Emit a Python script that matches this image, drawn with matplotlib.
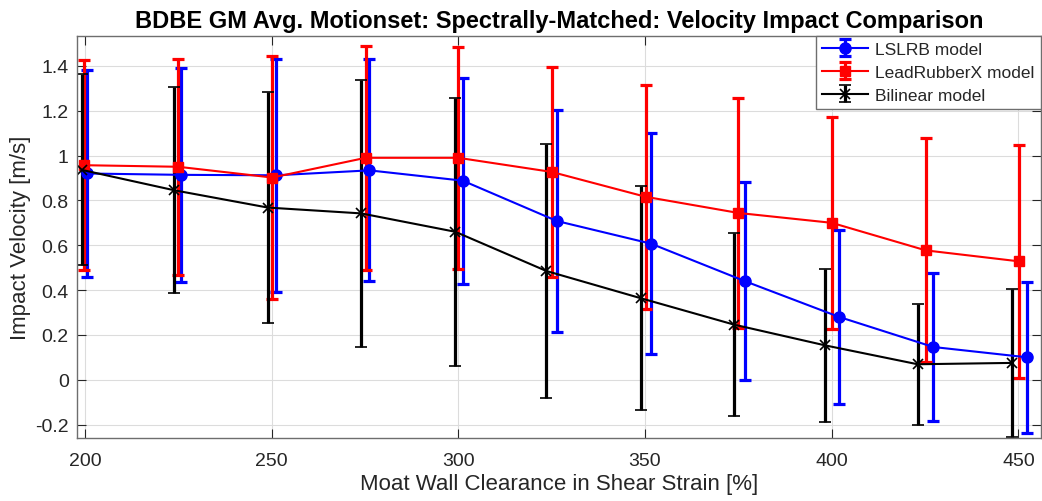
import matplotlib
matplotlib.use("Agg")
import matplotlib.pyplot as plt
import numpy as np

plt.rcParams['font.family'] = ['Liberation Sans', 'DejaVu Sans']

# Moat wall clearance (shear strain, %)
strain = [200, 225, 250, 275, 300, 325, 350, 375, 400, 425, 450]
# plotted x positions (slightly offset per series, as in the original)
x_lslrb = [200.6, 225.8, 251.2, 276.2, 301.2, 326.4, 351.6, 376.7, 402.0, 427.2, 452.3]
x_lrx = [199.9, 225.0, 250.2, 275.2, 300.0, 325.0, 350.2, 375.0, 400.0, 425.2, 450.2]
x_bil = [199.2, 224.0, 249.0, 274.0, 299.2, 323.6, 349.0, 373.8, 398.3, 423.0, 448.3]

lslrb_mean = [0.920, 0.914, 0.912, 0.934, 0.888, 0.708, 0.607, 0.440, 0.280, 0.146, 0.100]
lslrb_err = [0.462, 0.477, 0.521, 0.495, 0.460, 0.496, 0.494, 0.442, 0.390, 0.330, 0.338]

lrx_mean = [0.957, 0.950, 0.902, 0.990, 0.990, 0.927, 0.816, 0.744, 0.700, 0.577, 0.528]
lrx_err = [0.468, 0.483, 0.540, 0.499, 0.495, 0.469, 0.499, 0.514, 0.472, 0.500, 0.520]

bil_mean = [0.936, 0.845, 0.768, 0.742, 0.660, 0.485, 0.363, 0.246, 0.153, 0.069, 0.075]
bil_err = [0.426, 0.460, 0.517, 0.594, 0.598, 0.566, 0.500, 0.410, 0.342, 0.270, 0.330]

xticks = [200, 250, 300, 350, 400, 450]
yticks = [-0.2, 0, 0.2, 0.4, 0.6, 0.8, 1.0, 1.2, 1.4]
ytick_labels = ['-0.2', '0', '0.2', '0.4', '0.6', '0.8', '1', '1.2', '1.4']

fig = plt.figure(figsize=(10.42, 5.02), dpi=100)
ax = fig.add_axes([0.0739, 0.1255, 0.925, 0.8015])

common = dict(linewidth=1.5, elinewidth=2.3, capsize=4, capthick=2.3)
ax.errorbar(x_lslrb, lslrb_mean, yerr=lslrb_err, color='#0000ff', marker='o',
            markersize=8, label='LSLRB model', **common)
ax.errorbar(x_lrx, lrx_mean, yerr=lrx_err, color='#ff0000', marker='s',
            markersize=7, label='LeadRubberX model', **common)
ax.errorbar(x_bil, bil_mean, yerr=bil_err, color='#000000', marker='x',
            markersize=7, markeredgewidth=1.2, label='Bilinear model', **common)

ax.set_xlim(197.9, 456)
ax.set_ylim(-0.26, 1.535)
ax.set_xticks(xticks)
ax.set_yticks(yticks)
ax.set_yticklabels(ytick_labels)

gray = '#262626'
ax.grid(True, color='#dcdcdc', linewidth=0.8)
ax.set_axisbelow(True)
ax.tick_params(direction='in', top=True, right=True, length=6.5, width=0.8,
               colors=gray, labelsize=14)
ax.tick_params(axis='x', pad=10)
ax.tick_params(axis='y', pad=6)
for sp in ax.spines.values():
    sp.set_color('#6e6e6e')
    sp.set_linewidth(1.0)

ax.set_xlabel('Moat Wall Clearance in Shear Strain [%]', fontsize=16, color=gray, labelpad=3)
ax.set_ylabel('Impact Velocity [m/s]', fontsize=16, color=gray, labelpad=3)
ax.set_title('BDBE GM Avg. Motionset: Spectrally-Matched: Velocity Impact Comparison',
             fontsize=17, fontweight='bold', pad=6)

leg = ax.legend(loc='upper right', fontsize=12.5, frameon=True, fancybox=False,
                framealpha=1, edgecolor='#6e6e6e', borderaxespad=0.0,
                handlelength=2.7, borderpad=0.35, labelspacing=0.45, handletextpad=0.4)
leg.get_frame().set_linewidth(1.0)
for t in leg.get_texts():
    t.set_color(gray)

fig.savefig('out.png', dpi=100)
